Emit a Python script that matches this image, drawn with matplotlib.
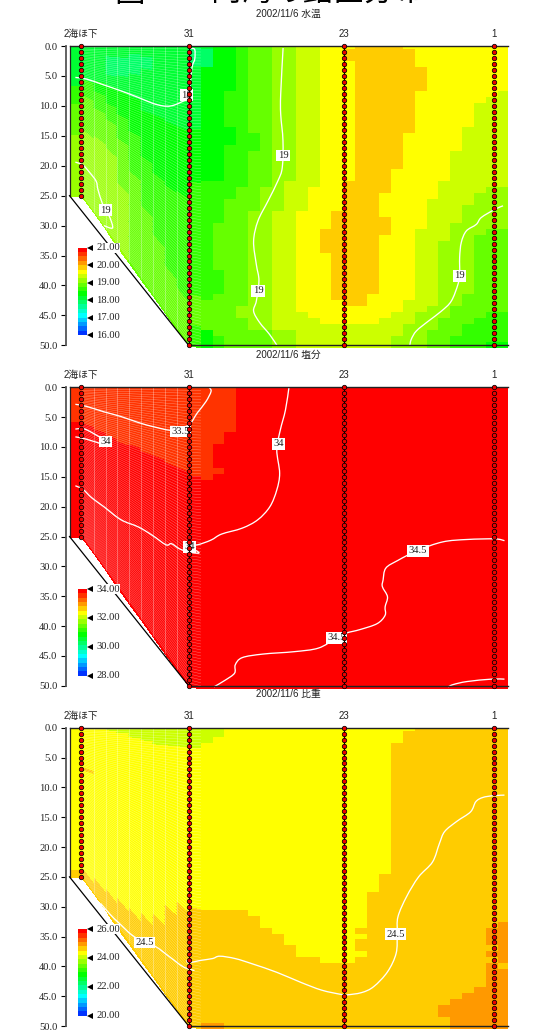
import numpy as np
import matplotlib
matplotlib.use("Agg")
import matplotlib.pyplot as plt
from matplotlib.colors import ListedColormap, BoundaryNorm
from matplotlib.path import Path
from matplotlib.patches import PathPatch

W, H = 542, 1031
SANS = ['Liberation Sans', 'Noto Sans CJK JP']
SERIF = 'Liberation Serif'
plt.rcParams['font.family'] = SANS

palette = ['#0033FF', '#0066FF', '#0099FF', '#00CCFF', '#00FFFF', '#00FFCC', '#00FF99',
           '#00FF66', '#00FF33', '#00FF00', '#33FF00', '#66FF00', '#99FF00', '#CCFF00',
           '#FFFF00', '#FFCC00', '#FF9900', '#FF6600', '#FF3300', '#FF0000']

station_names = ['2海ほ下', '31', '23', '1']
station_x = [0.93, 10.04, 23.05, 35.67]
station_bottom = [25, 50, 50, 50]
depth_ticks = [0, 5, 10, 15, 20, 25, 30, 35, 40, 45, 50]
section_bottom_left = [25, 25, 25 + 25 / 9, 25 + 50 / 9, 25 + 75 / 9, 25 + 100 / 9, 25 + 125 / 9,
                       25 + 150 / 9, 25 + 175 / 9, 25 + 200 / 9, 50, 50.5]

# Colour class (0..19) and the depth it reaches down to, column by column
temp_cols = [
 [(8, 7), (10, 10), (11, 15), (12, 60)],
 [(8, 6), (10, 9), (11, 15), (12, 60)],
 [(8, 6), (9, 8), (10, 11), (11, 16), (12, 60)],
 [(8, 2), (7, 5), (8, 7), (9, 10), (10, 13), (11, 18), (12, 60)],
 [(8, 2), (7, 5), (8, 8), (9, 12), (10, 16), (11, 24), (12, 60)],
 [(8, 1.5), (7, 5), (8, 9), (9, 15), (10, 22), (11, 60)],
 [(8, 2), (7, 4), (8, 11), (9, 19), (10, 28), (11, 60)],
 [(8, 12), (9, 22), (10, 33), (11, 60)],
 [(8, 13), (9, 24), (10, 38), (11, 60)],
 [(8, 14), (9, 25), (10, 42), (11, 60)],
 [(8, 0.5), (7, 3.5), (8, 14), (9, 23), (10, 42), (11, 47), (10, 60)],
 [(8, 0.5), (7, 3.8), (9, 22.8), (10, 42.6), (11, 47), (9, 60)],
 [(9, 22.8), (10, 29), (11, 37.6), (10, 41), (11, 48.5), (10, 60)],
 [(9, 7.5), (10, 13), (9, 16), (10, 25.6), (11, 60)],
 [(10, 23.4), (11, 43.5), (12, 45.4), (11, 60)],
 [(11, 14), (10, 17.5), (11, 27), (12, 47.4), (11, 60)],
 [(11, 23.4), (12, 47.4), (11, 60)],
 [(12, 27), (13, 47.4), (12, 60)],
 [(12, 22.8), (13, 47.4), (12, 60)],
 [(13, 27.4), (14, 44), (13, 60)],
 [(13, 23), (14, 45.7), (13, 60)],
 [(14, 30.4), (15, 34.4), (14, 46), (13, 60)],
 [(14, 27.4), (15, 42.9), (14, 46.5), (13, 60)],
 [(14, 0.7), (15, 2.5), (14, 22.8), (15, 43.4), (14, 46.5), (13, 60)],
 [(15, 43), (14, 46.5), (13, 60)],
 [(15, 41.5), (14, 46), (13, 60)],
 [(15, 24.6), (14, 28), (15, 31), (14, 45), (13, 60)],
 [(15, 20.6), (14, 44), (13, 48), (12, 60)],
 [(14, 0.7), (15, 14.5), (14, 42), (13, 46), (12, 60)],
 [(14, 3), (15, 7), (14, 30.4), (13, 44.5), (12, 60)],
 [(14, 25), (13, 43), (12, 47), (11, 60)],
 [(14, 22), (13, 32.5), (12, 45.5), (11, 60)],
 [(14, 17), (13, 29), (12, 43.5), (11, 48.5), (10, 60)],
 [(14, 13.6), (13, 26), (12, 41), (11, 46), (10, 60)],
 [(14, 9.6), (13, 24.5), (12, 31), (11, 45), (10, 60)],
 [(14, 8), (13, 23.4), (12, 30), (11, 44), (10, 49), (9, 60)],
 [(14, 7.5), (13, 23.4), (12, 30), (11, 44), (10, 49), (9, 60)],
]

sal_cols = [
 [(18, 6), (19, 60)], [(18, 6.5), (19, 60)], [(18, 7.5), (19, 60)], [(18, 8.5), (19, 60)],
 [(18, 9.5), (19, 60)], [(18, 10), (19, 60)], [(18, 11), (19, 60)], [(18, 12), (19, 60)],
 [(18, 13), (19, 60)], [(18, 14), (19, 60)], [(18, 15), (19, 60)], [(18, 15.4), (19, 60)],
 [(18, 9), (19, 13), (18, 14.5), (19, 60)], [(18, 7.4), (19, 60)],
] + [[(19, 60)]] * 23

dens_cols = [
 [(14, 24), (15, 60)],
 [(14, 7), (15, 7.7), (14, 25), (15, 60)],
 [(14, 26.5), (15, 60)],
 [(13, 0.5), (14, 28.5), (15, 60)],
 [(13, 1), (14, 30), (15, 60)],
 [(13, 1.7), (14, 31.5), (15, 60)],
 [(13, 2.3), (14, 32.5), (15, 60)],
 [(13, 2.8), (14, 32.5), (15, 60)],
 [(13, 3.3), (14, 31), (15, 60)],
 [(13, 3.5), (14, 30.5), (15, 60)],
 [(13, 3.4), (14, 30.5), (15, 60)],
 [(13, 2.5), (14, 30.4), (15, 49.5), (16, 60)],
 [(13, 1.5), (14, 30.4), (15, 49.5), (16, 60)],
 [(14, 30.4), (15, 50.1), (16, 60)],
 [(14, 30.4), (15, 60)],
 [(14, 31.4), (15, 60)],
 [(14, 33.4), (15, 60)],
 [(14, 34.4), (15, 60)],
 [(14, 36.4), (15, 60)],
 [(14, 38), (15, 60)],
 [(14, 38.7), (15, 60)],
 [(14, 39.3), (15, 60)],
 [(14, 39.3), (15, 60)],
 [(14, 39), (15, 60)],
 [(14, 33), (15, 34), (14, 35.5), (15, 37), (14, 38), (15, 60)],
 [(14, 27), (15, 60)],
 [(14, 24), (15, 60)],
 [(14, 2.3), (15, 60)],
 [(14, 0.8), (15, 60)],
 [(15, 60)],
 [(15, 60)],
 [(15, 46.5), (16, 48.5), (15, 60)],
 [(15, 45), (16, 60)],
 [(15, 44), (16, 60)],
 [(15, 43), (16, 60)],
 [(15, 33.4), (16, 36), (15, 37.5), (16, 38), (15, 39.9), (16, 60)],
 [(15, 31.2), (16, 31.6), (15, 32.3), (16, 39.8), (15, 40.7), (16, 60)],
]

# Contour lines: (distance, depth)
temp_lines = [
 ([.46, 1.4, 2.85, 4.3, 5.76, 6.93, 7.8, 8.53, 9.4, 9.98, 10.27, 10.5, 10.5, 10.18],
  [5.25, 5.53, 6.5, 7.5, 8.6, 9.55, 10, 10, 9.33, 8.3, 3.6, 2.2, .6, .4]),
 ([.46, 1.1, 1.69, 2.21, 2.36, 2.71, 3.0, 3.37, 3.58, 2.85],
  [19.4, 19.9, 21.2, 22.6, 24, 26.2, 27.4, 28.7, 30.4, 30]),
 ([17.93, 17.73, 17.73, 17.92, 17.86, 17.5, 16.66, 15.82, 15.45, 15.68, 15.9, 15.68, 15.45, 15.96, 16.8, 17.44],
  [.33, 8, 11.4, 15.8, 20.3, 22.5, 25.9, 29.2, 32.6, 36.5, 39.2, 42.6, 44.3, 46.2, 48.2, 50.1]),
 ([36.43, 35.73, 34.6, 34.18, 33.34, 32.92, 32.78, 32.78, 32.64, 32.08, 31.24, 30.12, 29.14, 28.71, 28.58],
  [26.7, 27.3, 28.65, 29.8, 30.9, 32.8, 35.3, 38.1, 39.8, 42.6, 44.3, 46, 47.6, 49, 50.1]),
]
temp_labels = [('18', 9.8, 8.2), ('19', 3.0, 27.4), ('19', 17.92, 18.3), ('19', 15.82, 40.9), ('19', 32.78, 38.4)]

sal_lines = [
 ([.46, 1.4, 2.85, 4.3, 5.76, 7.22, 8.67, 9.99, 10.71, 11.44, 11.87, 11.73],
  [2.85, 3.2, 4.1, 4.9, 5.9, 6.7, 7.2, 6.3, 4.3, 2.4, .7, .05]),
 ([.46, 1.25, 2.56], [7, 7, 8.4]),
 ([.46, 1.4, 3], [8.3, 8.7, 9.7]),
 ([.46, 1.1, 1.83, 2.85, 4.3, 5.76, 6.93, 8.09, 8.53, 9.25, 10.07, 10.71, 10.86, 10.56],
  [16.5, 17.1, 18.5, 20, 22.2, 23.4, 24.8, 26.4, 26.2, 27.1, 27.6, 27.8, 27.7, 27.3]),
 ([18.42, 18.13, 17.69, 17.4, 17.64, 17.4, 16.82, 15.8, 14.49, 12.75, 11.87, 10.71, 10.07],
  [.05, 3.8, 7.2, 10.5, 14.4, 17.2, 20, 22.2, 23.6, 24.6, 25.6, 26.4, 26.3]),
 ([36.55, 35.74, 33.41, 31.37, 29.28, 27.59, 26.57, 26.34, 26.28, 26.71, 26.51, 26.51, 25.84, 24.39, 23.22,
   22.35, 20.9, 18.86, 16.24, 14.49, 13.91, 13.85, 13.04, 12.11],
  [25.7, 25.4, 25.5, 25.9, 27.3, 29, 30.3, 32.3, 33.4, 35.1, 36.8, 38.2, 39.6, 40.6, 41.2,
   42.1, 43.7, 44.3, 44.7, 45.3, 46.5, 47.9, 49.1, 50.2]),
 ([36.55, 35.45, 33.41, 32.25, 31.81], [48.9, 48.9, 49.3, 49.8, 50.2]),
]
sal_labels = [('33.5', 9.3, 7.4), ('34', 3, 9.1), ('34', 10.07, 26.7), ('34', 17.52, 9.5),
              ('34.5', 29.28, 27.4), ('34.5', 22.4, 42)]

dens_lines = [
 ([2.56, 3.43, 4.16, 5.18, 6.26, 7.22, 8.38, 9.55, 10.48], [29.4, 31.4, 32.8, 34.7, 36, 36.7, 38.4, 40.1, 40.7]),
 ([9.84, 9.98, 11, 11.99, 12.6, 13.91, 15.37, 17.4, 19.44, 21.19, 22.79, 23.22, 24.53, 25.55, 26.72, 27.44,
   27.53, 27.59, 28.32, 29.33, 30.5, 31.08, 31.52, 32.54, 33.7, 34.14, 34.72, 35.59, 36.55],
  [38.9, 39.4, 39, 38.7, 38.3, 38.7, 39.6, 41, 42.7, 44, 44.7, 44.8, 44.4, 43.4, 40.9, 37.8,
   34.5, 31.7, 28.3, 25, 22.5, 19.4, 17.4, 15.7, 14.1, 12.4, 11.7, 11.4, 11.3]),
]
dens_labels = [('24.5', 6.26, 36), ('24.5', 27.38, 34.6)]

panels = [
 dict(title='2002/11/6 水温', cols=temp_cols, lines=temp_lines, labels=temp_labels, vmin=16, vmax=21,
      cticks=[16, 17, 18, 19, 20, 21], top=46.0, bot=345.3, ttl=13.5, stn=34.0, cb=(247.7, 335)),
 dict(title='2002/11/6 塩分', cols=sal_cols, lines=sal_lines, labels=sal_labels, vmin=28, vmax=34,
      cticks=[28, 30, 32, 34], top=387.3, bot=685.7, ttl=354.5, stn=374.7, cb=(589, 675.7)),
 dict(title='2002/11/6 比重', cols=dens_cols, lines=dens_lines, labels=dens_labels, vmin=20, vmax=26,
      cticks=[20, 22, 24, 26], top=727.7, bot=1026.0, ttl=694.5, stn=715.7, cb=(929, 1015.7)),
]

X0, CELL, LEFT, RIGHT = 69.9, 11.89, 69.5, 508.0
N_ROWS = 101


def lookup(runs, depth):
    for cls, bottom in runs:
        if depth <= bottom:
            return cls
    return runs[-1][0]


def curve(xs, ys):
    """Bezier path passing through the read points of a contour line."""
    pts = np.column_stack([xs, ys])
    verts = [pts[0]]
    codes = [Path.MOVETO]
    for i in range(len(pts) - 1):
        p0 = pts[max(i - 1, 0)]
        p1, p2 = pts[i], pts[i + 1]
        p3 = pts[min(i + 2, len(pts) - 1)]
        verts += [p1 + (p2 - p0) / 6, p2 - (p3 - p1) / 6, p2]
        codes += [Path.CURVE4] * 3
    return Path(verts, codes)


fig = plt.figure(figsize=(W / 100, H / 100), dpi=100)
fig.patch.set_facecolor('white')
cmap = ListedColormap(palette)

for p in panels:
    bounds = np.linspace(p['vmin'], p['vmax'], 21)
    norm = BoundaryNorm(bounds, 20)
    step = bounds[1] - bounds[0]
    ppm = (p['bot'] - p['top']) / 50
    bot_px = p['bot'] + 0.5 * ppm
    ax = fig.add_axes([LEFT / W, 1 - bot_px / H, (RIGHT - LEFT) / W, (bot_px - p['top']) / H])
    ax.set_xlim((LEFT - X0) / CELL, (RIGHT - X0) / CELL)
    ax.set_ylim(50.5, 0)
    ax.patch.set_alpha(0)

    # sheared part, west of station 31
    fr = np.linspace(0, 1, N_ROWS + 1)
    xe = np.arange(12.0)
    xx = np.tile(xe, (N_ROWS + 1, 1))
    yy = np.outer(fr, section_bottom_left)
    vals = np.zeros((N_ROWS, 11))
    for k in range(11):
        mid = 0.5 * (yy[:-1, k] + yy[1:, k] + yy[:-1, k + 1] + yy[1:, k + 1]) / 2
        vals[:, k] = [p['vmin'] + step * (lookup(p['cols'][k], d) + 0.5) for d in mid]
    ax.pcolormesh(xx, yy, vals, cmap=cmap, norm=norm, shading='flat', antialiased=False,
                  edgecolors='face', linewidth=0.3, zorder=1)
    # the faint seams of the stretched cells
    for j in range(1, N_ROWS):
        ax.plot(xx[j, 1:], yy[j, 1:], color='white', lw=0.35, alpha=0.42, zorder=1.5)
    for k in range(2, 10):
        ax.plot([xe[k], xe[k]], [0, section_bottom_left[k]], color='white', lw=0.6, alpha=0.35, zorder=1.5)

    # regular part
    ye = np.concatenate([[0], np.arange(0.5, 51)])
    xr = np.arange(11.0, 38.0)
    mid = 0.5 * (ye[:-1] + ye[1:])
    vr = np.array([[p['vmin'] + step * (lookup(p['cols'][k], d) + 0.5) for k in range(11, 37)] for d in mid])
    ax.pcolormesh(xr, ye, vr, cmap=cmap, norm=norm, shading='flat', antialiased=False, zorder=1)

    for lx, ly in p['lines']:
        ax.add_patch(PathPatch(curve(lx, ly), fc='none', ec='white', lw=0.95, zorder=2, clip_on=False))
    for txt, lx, ly in p['labels']:
        ax.text(lx, ly, txt, family=SERIF, fontsize=7.6, color='#222222', ha='center', va='center', zorder=3,
                bbox=dict(facecolor='white', edgecolor='none', pad=1.0))

    # frame
    ax.plot([station_x[1] - 0.05, 36.85], [50, 50], color='#222222', lw=1.0, zorder=5, clip_on=False)
    ax.plot([(LEFT - X0) / CELL, 36.85], [0, 0], color='#222222', lw=1.0, zorder=5, clip_on=False)
    ax.plot([(LEFT - X0) / CELL] * 2, [0, 25], color='#222222', lw=0.9, zorder=5, clip_on=False)
    ax.plot([(LEFT - X0) / CELL, station_x[1] - 0.05], [25, 50], color='black', lw=0.9, zorder=5, clip_on=False)

    # stations
    for name, sx, sb in zip(station_names, station_x, station_bottom):
        if sb == 50 and sx < 30:
            ax.plot([sx, sx], [0, sb], color='black', lw=0.8, zorder=6, clip_on=False)
        ax.plot([sx] * (sb + 1), np.arange(sb + 1), ls='none', marker='o', ms=3.2, mfc='#EE0000', mec='black',
                mew=0.55, zorder=7, clip_on=False)
        fig.text((X0 + sx * CELL) / W, 1 - p['stn'] / H, name, fontsize=7, color='#222222',
                 ha='center', va='center')

    fig.text(288.7 / W, 1 - p['ttl'] / H, p['title'], fontsize=7, color='#222222', ha='center', va='center')

    # depth axis
    for s in ['top', 'right', 'bottom']:
        ax.spines[s].set_visible(False)
    ax.spines['left'].set_position(('outward', 2.7))
    ax.spines['left'].set_bounds(0, 50)
    ax.spines['left'].set_color('#555555')
    ax.spines['left'].set_linewidth(1.3)
    ax.set_xticks([])
    ax.set_yticks(depth_ticks)
    ax.set_yticklabels([f'{d:.1f}' for d in depth_ticks], family=SERIF, fontsize=7.6, color='#222222')
    ax.tick_params(axis='y', length=3.7, width=0.8, color='black', pad=2.2)

    # colour scale
    cb_top, cb_bot = p['cb']
    cax = fig.add_axes([78 / W, 1 - cb_bot / H, 8.7 / W, (cb_bot - cb_top) / H], zorder=10)
    cax.pcolormesh([0, 1], bounds, (bounds[:-1] + step / 2).reshape(-1, 1), cmap=cmap, norm=norm)
    cax.set_xlim(0, 1)
    cax.set_ylim(p['vmin'], p['vmax'])
    cax.set_xticks([])
    cax.set_yticks([])
    for s in cax.spines.values():
        s.set_visible(False)
    for t in p['cticks']:
        cax.plot([1.35], [t], marker='<', ms=4.6, color='black', mew=0, clip_on=False)
        cax.text(2.1, t, f'{t:.2f}', family=SERIF, fontsize=7.6, color='#222222', va='center', ha='left',
                 clip_on=False, bbox=dict(facecolor='white', edgecolor='none', pad=0.2))

# main heading, cut by the top of the page as in the reference
fig.text(130 / W, 1 - 8.5 / H, '図', fontsize=22, ha='center', va='bottom', family=['Noto Sans CJK JP'], color='black')
fig.text(318 / W, 1 - 8.5 / H, '内湾の鉛直分布', fontsize=22, ha='center', va='bottom', family=['Noto Sans CJK JP'],
         color='black')

fig.savefig('out.png', dpi=100)
